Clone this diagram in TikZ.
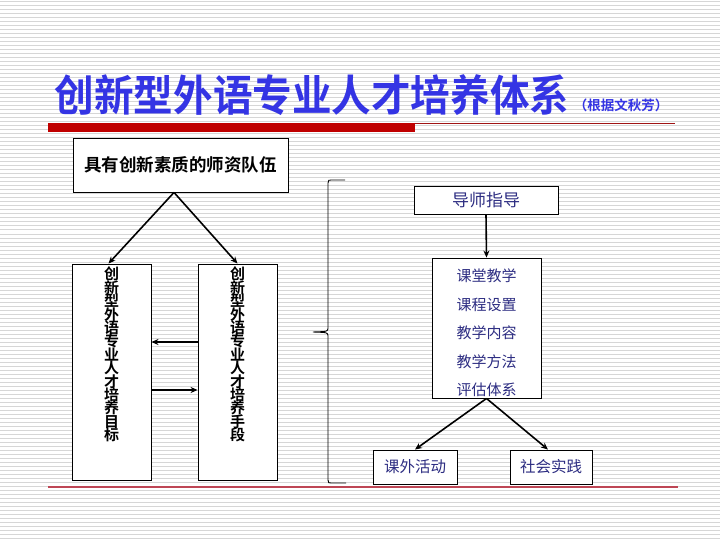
\documentclass[tikz,border=0pt]{standalone}
\usepackage{fontspec}
\usetikzlibrary{arrows.meta}
\newfontfamily\cjk{Noto Sans CJK SC}[BoldFont={Noto Sans CJK SC Bold}]
\newcommand\vstack[1]{\vbox{\baselineskip=13.4pt\lineskiplimit=-100pt\lineskip=0pt\relax
  \halign{\hfil##\hfil\cr #1\crcr}}}
\definecolor{titleblue}{RGB}{52,52,228}
\definecolor{navytext}{RGB}{45,45,130}
\definecolor{barred}{RGB}{192,0,0}
\definecolor{thinred}{RGB}{160,20,20}
\definecolor{lowred}{RGB}{190,70,85}
\definecolor{stripegray}{RGB}{214,214,214}
\tikzset{
  stripe/.style={draw=stripegray,line width=1pt},
  whitebox/.style={draw=black,fill=white,line width=0.9pt,inner sep=0pt},
  conn/.style={draw=black,line width=1.6pt,-{Stealth[length=7pt,width=6pt]}},
  bracket/.style={draw=black,line width=0.9pt},
  vtext/.style={anchor=north,inner sep=0pt,
    font=\cjk\bfseries\fontsize{15}{13.4}\selectfont},
}
\begin{document}
\begin{tikzpicture}[x=1pt,y=-1pt]
\useasboundingbox (0,0) rectangle (720,540);
\fill[white] (0,0) rectangle (720,540);
\foreach \yy in {2,6,...,538} \draw[stripe] (0,\yy) -- (720,\yy);
% title
\node[inner sep=0pt,text=titleblue,font=\cjk\bfseries\fontsize{43}{43}\selectfont] (title) at (312,95) {\scalebox{0.92}[1]{创新型外语专业人才培养体系}};
\node[inner sep=0pt,text=titleblue,font=\cjk\bfseries\fontsize{13.5}{13.5}\selectfont] (sub) at (621,105) {（根据文秋芳）};
% rules
\fill[barred] (48,123) rectangle (415,132);
\draw[thinred,line width=1pt] (415,123.5) -- (675,123.5);
\draw[lowred,line width=1.2pt] (48,487) -- (678,487);
% left part
\node[whitebox,minimum width=215pt,minimum height=54pt,font=\cjk\bfseries\fontsize{17.5}{17.5}\selectfont] (teacher) at (180.5,165) {具有创新素质的师资队伍};
\node[whitebox,minimum width=79pt,minimum height=216pt] (goal) at (111.5,372) {};
\node[whitebox,minimum width=79pt,minimum height=216pt] (means) at (237.5,372) {};
\node[vtext] (goaltext) at (111.5,267)
  {\vstack{创\cr 新\cr 型\cr 外\cr 语\cr 专\cr 业\cr 人\cr 才\cr 培\cr 养\cr 目\cr 标}};
\node[vtext] (meanstext) at (237.5,267)
  {\vstack{创\cr 新\cr 型\cr 外\cr 语\cr 专\cr 业\cr 人\cr 才\cr 培\cr 养\cr 手\cr 段}};
\coordinate (apex) at ([xshift=-6.5pt]teacher.south);
\draw[conn] (apex) -- ([xshift=-3pt]goal.north);
\draw[conn] (apex) -- (means.north);
\draw[conn] ([yshift=30pt]means.west) -- ([yshift=30pt]goal.east);
\draw[conn] ([yshift=-18pt]goal.east) -- ([yshift=-18pt]means.west);
% bracket
\draw[bracket] (345,180) -- (331,180) .. controls (328.5,180) .. (328,183) -- (328,328.5)
  .. controls (327.5,331.5) .. (313,332) .. controls (327.5,332.5) .. (328,335.5) -- (328,480)
  .. controls (328.5,483) .. (331,483) -- (346,483);
% right part
\node[whitebox,minimum width=144pt,minimum height=28pt,text=navytext,font=\cjk\fontsize{17}{17}\selectfont] (tutor) at (486,200) {导师指导};
\node[whitebox,minimum width=109pt,minimum height=140pt] (class) at (486.5,328) {};
\node[inner sep=0pt,align=center,text=navytext,font=\cjk\fontsize{15}{28.6}\selectfont] (classtext) at (486.5,333)
  {课堂教学\\课程设置\\教学内容\\教学方法\\评估体系};
\node[whitebox,minimum width=84pt,minimum height=34pt,text=navytext,font=\cjk\fontsize{15.5}{15.5}\selectfont] (extra) at (415,467) {课外活动};
\node[whitebox,minimum width=82pt,minimum height=34pt,text=navytext,font=\cjk\fontsize{15.5}{15.5}\selectfont] (social) at (551,467) {社会实践};
\draw[conn] (tutor.south) -- (class.north);
\draw[conn] (class.south) -- (extra.north);
\draw[conn] (class.south) -- ([xshift=-3pt]social.north);
\end{tikzpicture}
\end{document}
